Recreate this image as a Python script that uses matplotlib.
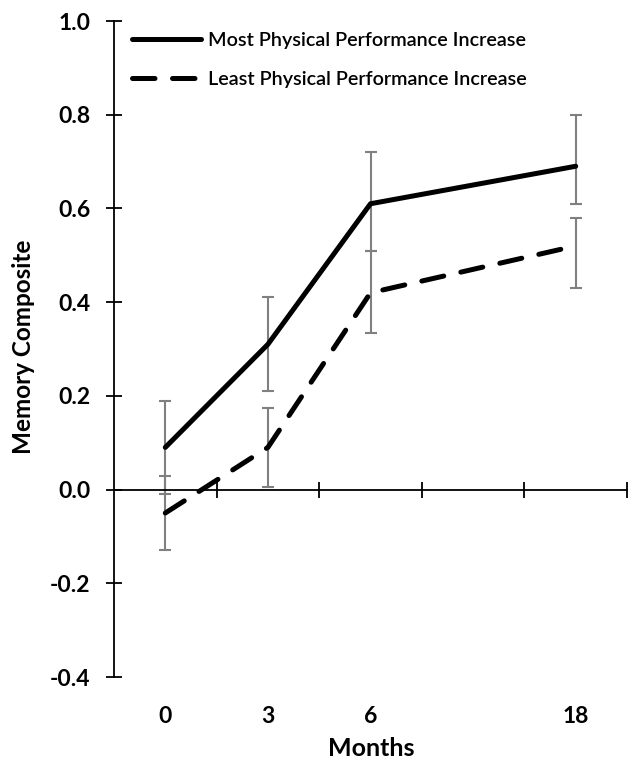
import matplotlib
matplotlib.use('Agg')
import matplotlib.pyplot as plt
import matplotlib.transforms as mtransforms

# data
months = ['0', '3', '6', '18']
slots = [0, 1, 2, 4]          # category slots (slot 3 is empty on the axis)
most = [0.09, 0.31, 0.61, 0.69]
most_lo = [0.10, 0.10, 0.10, 0.08]
most_hi = [0.10, 0.10, 0.11, 0.11]
least = [-0.05, 0.09, 0.42, 0.52]
least_lo = [0.08, 0.085, 0.085, 0.09]
least_hi = [0.08, 0.085, 0.09, 0.06]
yticks = [-0.4, -0.2, 0.0, 0.2, 0.4, 0.6, 0.8, 1.0]

plt.rcParams['font.family'] = ['Lato', 'DejaVu Sans']

fig = plt.figure(figsize=(6.28, 7.67), dpi=100)
ax = fig.add_axes([114/628, 1-677/767, 513/628, (677-21)/767])

err_kw = dict(ecolor='#808080', elinewidth=1.5, capsize=4.5, capthick=1.5, fmt='none', zorder=2)
ax.errorbar(slots, most, yerr=[most_lo, most_hi], **err_kw)
ax.errorbar(slots, least, yerr=[least_lo, least_hi], **err_kw)

ax.plot(slots, most, color='black', lw=3.6, solid_capstyle='round', zorder=3,
        label='Most Physical Performance Increase')
ax.plot(slots, least, color='black', lw=3.6, dashes=(4.5, 3.5), dash_capstyle='round', zorder=3,
        label='Least Physical Performance Increase')

ax.set_xlim(-0.5, 4.5)
ax.set_ylim(-0.4, 1.0)
ax.set_yticks(yticks)
ax.set_yticklabels([f'{v:.1f}' for v in yticks], fontsize=16.5, fontweight='bold')

for s in ['top', 'right']:
    ax.spines[s].set_visible(False)
ax.spines['bottom'].set_position(('data', 0))
ax.spines['left'].set_linewidth(1.3)
ax.spines['bottom'].set_linewidth(1.3)

ax.set_xticks([0.5, 1.5, 2.5, 3.5, 4.5])
ax.set_xticklabels([])
ax.tick_params(axis='x', direction='inout', length=12, width=1.3)
ax.tick_params(axis='y', direction='inout', length=12, width=1.3, pad=11)

trans = mtransforms.blended_transform_factory(ax.transData, ax.transAxes)
for s, m in zip(slots, months):
    ax.text(s, -0.06, m, transform=trans, ha='center', va='center',
            fontsize=16.5, fontweight='bold')

fig.text(371/628, 1-748/767, 'Months', ha='center', va='center', fontsize=18, fontweight='bold')
fig.text(24/628, 1-347/767, 'Memory Composite', rotation=90, ha='center', va='center',
         fontsize=17.5, fontweight='bold')

leg = ax.legend(loc='upper left', bbox_to_anchor=(0.0, 1.01), frameon=False,
                prop=dict(size=14.2, weight='semibold'),
                handlelength=3.5, labelspacing=1.1, handletextpad=0.35)

fig.savefig('out.png', dpi=100)
